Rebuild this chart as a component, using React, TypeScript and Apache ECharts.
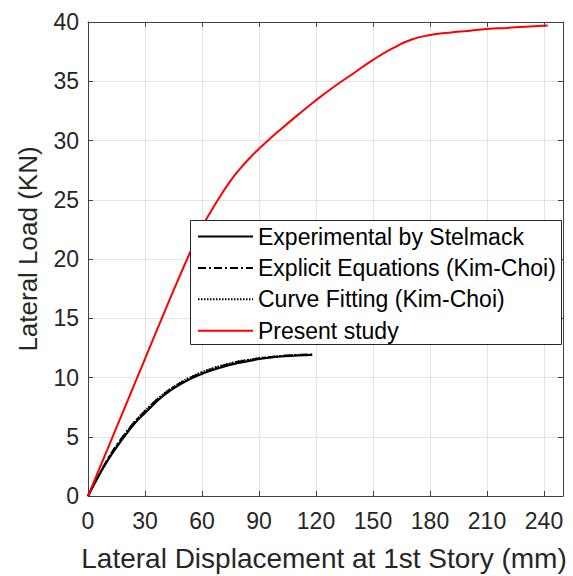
import React, { useEffect, useRef } from "react";
import * as echarts from "echarts";

const FONT = "'Liberation Sans', Arial, Helvetica, sans-serif";

const seriesNames = [
  "Experimental by Stelmack",
  "Explicit Equations (Kim-Choi)",
  "Curve Fitting (Kim-Choi)",
  "Present study",
];

const xAxisTitle = "Lateral Displacement at 1st Story (mm)";
const yAxisTitle = "Lateral Load (KN)";

const xMin = 0;
const xMax = 250;
const xInterval = 30;
const yMin = 0;
const yMax = 40;
const yInterval = 5;

// Experimental by Stelmack
const expX = [0, 5, 10, 15, 20, 25, 30, 40, 50, 60, 70, 80, 90, 100, 110, 118];
const expY = [0, 1.5, 2.9, 4.1, 5.2, 6.2, 7.0, 8.5, 9.55, 10.3, 10.85, 11.25, 11.55, 11.75, 11.85, 11.9];

// Explicit Equations (Kim-Choi)
const explX = [0, 10, 20, 30, 40, 50, 60, 70, 80, 90, 100, 110, 118];
const explY = [0, 3.0, 5.35, 7.15, 8.6, 9.65, 10.4, 10.95, 11.35, 11.6, 11.8, 11.9, 11.95];

// Curve Fitting (Kim-Choi)
const fitX = [0, 5, 10, 15, 20, 25, 30, 35, 40, 45, 50, 55, 60, 65, 70, 75, 80, 85, 90, 95, 100, 105, 110, 115, 118];
const fitY = [0, 1.55, 3.0, 4.2, 5.35, 6.35, 7.2, 7.95, 8.65, 9.2, 9.7, 10.1, 10.45, 10.75, 11.0, 11.2, 11.4, 11.5, 11.65, 11.7, 11.8, 11.85, 11.9, 11.9, 11.95];

// Present study
const presX = [0, 10, 20, 30, 40, 50, 55, 60, 65, 70, 75, 80, 85, 90, 95, 100, 110, 120, 130, 140, 150, 160, 170, 180, 190, 200, 210, 220, 230, 242];
const presY = [0, 3.86, 7.72, 11.58, 15.44, 19.2, 21.0, 22.7, 24.1, 25.4, 26.6, 27.6, 28.5, 29.3, 30.05, 30.75, 32.1, 33.4, 34.6, 35.7, 36.8, 37.75, 38.5, 38.9, 39.1, 39.25, 39.4, 39.5, 39.6, 39.7];

const zip = (xs: number[], ys: number[]) => xs.map((x, i) => [x, ys[i]]);

export default function App() {
  const ref = useRef<HTMLDivElement>(null);

  useEffect(() => {
    const chart = echarts.init(ref.current!, null, { renderer: "svg" });
    const axisColor = "#404040";
    const gridColor = "#e3e3e3";
    const tickLabel = { color: "#262626", fontSize: 23, fontFamily: FONT };

    const baseX = {
      type: "value",
      min: xMin,
      max: xMax,
      interval: xInterval,
      axisLine: { show: true, onZero: false, lineStyle: { color: axisColor, width: 1 } },
      axisTick: { show: true, inside: true, length: 5, lineStyle: { color: axisColor } },
    };
    const baseY = {
      type: "value",
      min: yMin,
      max: yMax,
      interval: yInterval,
      axisLine: { show: true, onZero: false, lineStyle: { color: axisColor, width: 1 } },
      axisTick: { show: true, inside: true, length: 5, lineStyle: { color: axisColor } },
    };

    chart.setOption({
      animation: false,
      backgroundColor: "#ffffff",
      grid: { left: 88, top: 22, width: 475, height: 474, containLabel: false },
      xAxis: [
        {
          ...baseX,
          position: "bottom",
          axisLabel: { ...tickLabel, margin: 13, showMaxLabel: false },
          splitLine: { show: true, lineStyle: { color: gridColor, width: 1 } },
        },
        {
          ...baseX,
          position: "top",
          axisLabel: { show: false },
          splitLine: { show: false },
        },
      ],
      yAxis: [
        {
          ...baseY,
          position: "left",
          axisLabel: { ...tickLabel, margin: 9 },
          splitLine: { show: true, lineStyle: { color: gridColor, width: 1 } },
        },
        {
          ...baseY,
          position: "right",
          axisLabel: { show: false },
          splitLine: { show: false },
        },
      ],
      legend: {
        left: 197,
        top: 225,
        orient: "vertical",
        padding: 0,
        itemGap: 8.4,
        itemWidth: 55,
        itemHeight: 14,
        data: seriesNames,
        textStyle: { color: "#000000", fontSize: 23, fontFamily: FONT },
        lineStyle: { width: 2 },
        itemStyle: { opacity: 0 },
        z: 5,
      },
      graphic: [
        {
          type: "rect",
          z: 3,
          shape: { x: 190.5, y: 220.5, width: 371, height: 124 },
          style: { fill: "#ffffff", stroke: "#262626", lineWidth: 1 },
        },
        {
          type: "text",
          x: 324,
          y: 558,
          style: {
            text: xAxisTitle,
            fill: "#262626",
            fontSize: 28,
            fontFamily: FONT,
            align: "center",
            verticalAlign: "middle",
          },
        },
        {
          type: "text",
          x: 28,
          y: 249,
          rotation: Math.PI / 2,
          style: {
            text: yAxisTitle,
            fill: "#262626",
            fontSize: 26,
            fontFamily: FONT,
            align: "center",
            verticalAlign: "middle",
          },
        },
      ],
      series: [
        {
          name: seriesNames[0],
          type: "line",
          symbol: "none",
          smooth: true,
          z: 2,
          data: zip(expX, expY),
          lineStyle: { color: "#000000", width: 2, type: "solid" },
          itemStyle: { color: "#000000" },
        },
        {
          name: seriesNames[1],
          type: "line",
          symbol: "none",
          smooth: true,
          z: 2,
          data: zip(explX, explY),
          lineStyle: { color: "#000000", width: 2, type: [8, 3, 2, 3] },
          itemStyle: { color: "#000000" },
        },
        {
          name: seriesNames[2],
          type: "line",
          symbol: "none",
          smooth: true,
          z: 2,
          data: zip(fitX, fitY),
          lineStyle: { color: "#000000", width: 2, type: [1.5, 1.5] },
          itemStyle: { color: "#000000" },
        },
        {
          name: seriesNames[3],
          type: "line",
          symbol: "none",
          smooth: true,
          z: 2,
          data: zip(presX, presY),
          lineStyle: { color: "#ff0000", width: 2, type: "solid" },
          itemStyle: { color: "#ff0000" },
        },
      ],
    });
    return () => chart.dispose();
  }, []);

  return (
    <div
      ref={ref}
      style={{ position: "fixed", left: 0, top: 0, width: 573, height: 576 }}
    />
  );
}
